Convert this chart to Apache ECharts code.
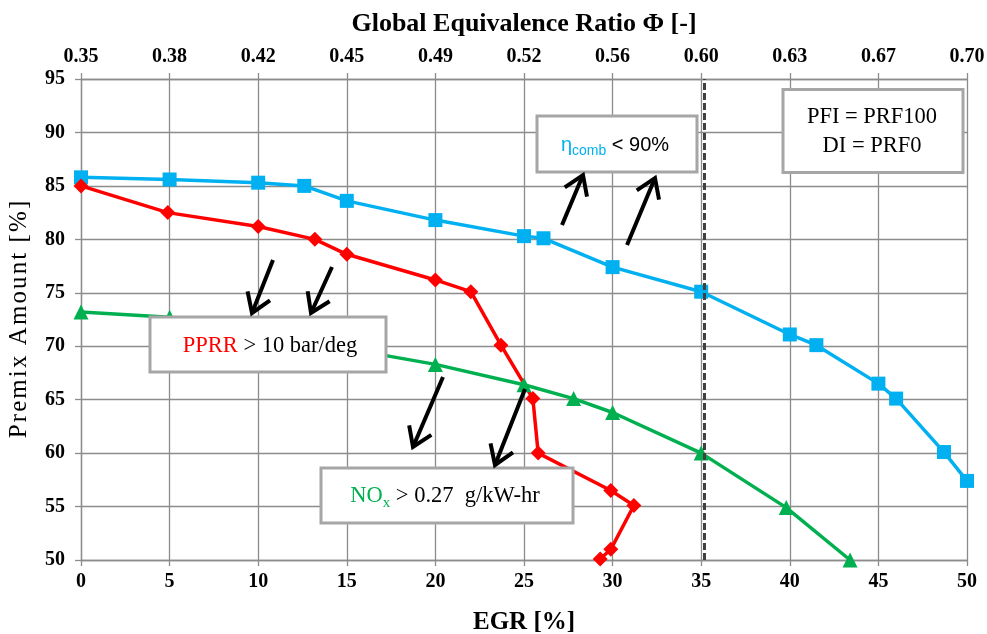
<!DOCTYPE html>
<html>
<head>
<meta charset="utf-8">
<script src="https://cdn.jsdelivr.net/npm/echarts@6/dist/echarts.min.js"></script>
<style>html,body{margin:0;padding:0;background:#fff;}#c{width:987px;height:634px;}</style>
</head>
<body>
<div id="c"></div>
<script>
// ---- data ----
const egrTicks = [0, 5, 10, 15, 20, 25, 30, 35, 40, 45, 50];
const phiLabels = ['0.35', '0.38', '0.42', '0.45', '0.49', '0.52', '0.56', '0.60', '0.63', '0.67', '0.70'];

const etaX = [0, 5, 10, 12.6, 15, 20, 25, 26.1, 30, 35, 40, 41.5, 45, 46, 48.7, 50];
const etaY = [85.8, 85.6, 85.3, 85.0, 83.6, 81.8, 80.3, 80.1, 77.4, 75.1, 71.1, 70.1, 66.5, 65.1, 60.1, 57.4];

const pprrX = [0, 4.9, 10, 13.2, 15, 20, 22, 23.7, 25.5, 25.8, 29.9, 31.2, 29.9, 29.3];
const pprrY = [85.0, 82.5, 81.2, 80.0, 78.6, 76.2, 75.1, 70.1, 65.1, 60.0, 56.5, 55.1, 51.0, 50.1];

const noxX = [0, 5, 20, 25, 27.8, 30, 35, 39.8, 43.4];
const noxY = [73.2, 72.7, 68.3, 66.4, 65.1, 63.8, 60.0, 54.9, 50.0];

const phiLimitEGR = 35.2;

// ---- styling ----
const SERIF = '"Liberation Serif", "Times New Roman", serif';
const SANS = '"Liberation Sans", Arial, sans-serif';
const GRIDC = '#8c8c8c';
const BLUE = '#00b0f0', RED = '#ff0000', GREEN = '#00b050';

const zip = (xs, ys) => xs.map((x, i) => [x, ys[i]]);
const spaced = s => s.split('').join('\u200A');

const chart = echarts.init(document.getElementById('c'), null, {renderer: 'canvas'});

const axisLabelStyle = {fontFamily: SERIF, fontWeight: 'bold', fontSize: 20, color: '#000'};

const option = {
  animation: false,
  backgroundColor: '#fff',
  grid: {left: 81, right: 20, top: 79, bottom: 74, containLabel: false, outerBoundsMode: 'none'},
  xAxis: [
    {
      type: 'value', min: 0, max: 50, interval: 5, position: 'bottom',
      name: 'EGR [%]', nameLocation: 'middle', nameGap: 50,
      nameTextStyle: {fontFamily: SERIF, fontWeight: 'bold', fontSize: 25, color: '#000'},
      axisLine: {show: true, onZero: false, lineStyle: {color: GRIDC, width: 1.3}},
      axisTick: {show: true, length: 6, lineStyle: {color: GRIDC, width: 1.3}},
      axisLabel: Object.assign({margin: 12}, axisLabelStyle),
      splitLine: {show: true, lineStyle: {color: GRIDC, width: 1.3}}
    },
    {
      type: 'value', min: 0, max: 50, interval: 5, position: 'top',
      name: 'Global Equivalence Ratio \u03A6 [-]', nameLocation: 'middle', nameGap: 42,
      nameTextStyle: {fontFamily: SERIF, fontWeight: 'bold', fontSize: 26, color: '#000'},
      axisLine: {show: true, onZero: false, lineStyle: {color: GRIDC, width: 1.3}},
      axisTick: {show: true, length: 6, lineStyle: {color: GRIDC, width: 1.3}},
      axisLabel: Object.assign({margin: 12, formatter: v => phiLabels[egrTicks.indexOf(v)] || ''}, axisLabelStyle),
      splitLine: {show: false}
    }
  ],
  yAxis: {
    type: 'value', min: 50, max: 95, interval: 5,
    name: spaced('Premix Amount [%]'), nameLocation: 'middle', nameGap: 49,
    nameTextStyle: {fontFamily: SERIF, fontSize: 25, color: '#000'},
    axisLine: {show: true, onZero: false, lineStyle: {color: GRIDC, width: 1.3}},
    axisTick: {show: true, length: 6, lineStyle: {color: GRIDC, width: 1.3}},
    axisLabel: Object.assign({margin: 16}, axisLabelStyle),
    splitLine: {show: true, lineStyle: {color: GRIDC, width: 1.3}}
  },
  series: [
    {
      name: 'eta', type: 'line', data: zip(etaX, etaY), xAxisIndex: 0,
      symbol: 'rect', symbolSize: 14, clip: false,
      lineStyle: {color: BLUE, width: 3.5}, itemStyle: {color: BLUE},
      markLine: {
        silent: true, symbol: 'none', animation: false,
        label: {show: false},
        lineStyle: {type: [7, 3], color: '#404040', width: 3},
        data: [{xAxis: phiLimitEGR}]
      }
    },
    {
      name: 'pprr', type: 'line', data: zip(pprrX, pprrY), xAxisIndex: 0,
      symbol: 'diamond', symbolSize: 15, clip: false,
      lineStyle: {color: RED, width: 3.5}, itemStyle: {color: RED}
    },
    {
      name: 'nox', type: 'line', data: zip(noxX, noxY), xAxisIndex: 0,
      symbol: 'triangle', symbolSize: 15, clip: false,
      lineStyle: {color: GREEN, width: 3.5}, itemStyle: {color: GREEN}
    }
  ]
};
chart.setOption(option);

// ---- annotations (boxes & arrows) ----
function box(x, y, w, h) {
  return {type: 'rect', z: 100, shape: {x: x, y: y, width: w, height: h},
    style: {fill: '#fff', stroke: '#a6a6a6', lineWidth: 3}};
}
function txt(cx, cy, text, rich, font) {
  return {type: 'text', z: 101, x: cx, y: cy,
    style: {text: text, rich: rich, align: 'center', verticalAlign: 'middle',
      font: font, fill: '#000'}};
}
function arrow(tail, tip) {
  const dx = tail[0] - tip[0], dy = tail[1] - tip[1];
  const a = Math.atan2(dy, dx), L = 22, s = 0.58;
  const p1 = [tip[0] + L * Math.cos(a + s), tip[1] + L * Math.sin(a + s)];
  const p2 = [tip[0] + L * Math.cos(a - s), tip[1] + L * Math.sin(a - s)];
  return [
    {type: 'line', z: 102, shape: {x1: tail[0], y1: tail[1], x2: tip[0], y2: tip[1]},
      style: {stroke: '#000', lineWidth: 4, lineCap: 'butt'}},
    {type: 'polyline', z: 102, shape: {points: [p1, tip, p2]},
      style: {stroke: '#000', fill: null, lineWidth: 4, lineJoin: 'miter', lineCap: 'butt'}}
  ];
}

const BOXFONT = 22.5;
const g = [];
// PFI / DI box
g.push(box(783, 89.5, 180, 83));
g.push(txt(872, 117, 'PFI = PRF100', null, BOXFONT + 'px ' + SERIF));
g.push(txt(872, 146, 'DI = PRF0', null, BOXFONT + 'px ' + SERIF));
// eta box
g.push(box(537, 116, 160, 56));
g.push(txt(615, 145, '{e|\u03B7}{s|comb}{t| < 90%}', {
  e: {fontFamily: SANS, fontSize: 20, fill: BLUE, verticalAlign: 'middle'},
  s: {fontFamily: SANS, fontSize: 14, fill: BLUE, verticalAlign: 'bottom', lineHeight: 27},
  t: {fontFamily: SANS, fontSize: 20, fill: '#000', verticalAlign: 'middle'}
}, '20px ' + SANS));
// PPRR box
g.push(box(150, 317, 236, 55));
g.push(txt(270, 346, '{r|PPRR}{t| > 10 bar/deg}', {
  r: {fontFamily: SERIF, fontSize: BOXFONT, fill: RED},
  t: {fontFamily: SERIF, fontSize: BOXFONT, fill: '#000'}
}, BOXFONT + 'px ' + SERIF));
// NOx box
g.push(box(321, 468, 252, 55));
g.push(txt(445, 496, '{g|NO}{s|x}{t| > 0.27  g/kW-hr}', {
  g: {fontFamily: SERIF, fontSize: BOXFONT, fill: GREEN, verticalAlign: 'middle'},
  s: {fontFamily: SERIF, fontSize: 15, fill: GREEN, verticalAlign: 'bottom', lineHeight: 30},
  t: {fontFamily: SERIF, fontSize: BOXFONT, fill: '#000', verticalAlign: 'middle'}
}, BOXFONT + 'px ' + SERIF));
// arrows
[
  [[273, 260], [252, 313]],
  [[332, 267], [311, 313]],
  [[443, 377], [413, 447]],
  [[525, 389], [495, 465]],
  [[562, 225], [583, 175]],
  [[627, 245], [655, 178]]
].forEach(a => arrow(a[0], a[1]).forEach(e => g.push(e)));

chart.setOption({graphic: {elements: g}});
</script>
</body>
</html>
